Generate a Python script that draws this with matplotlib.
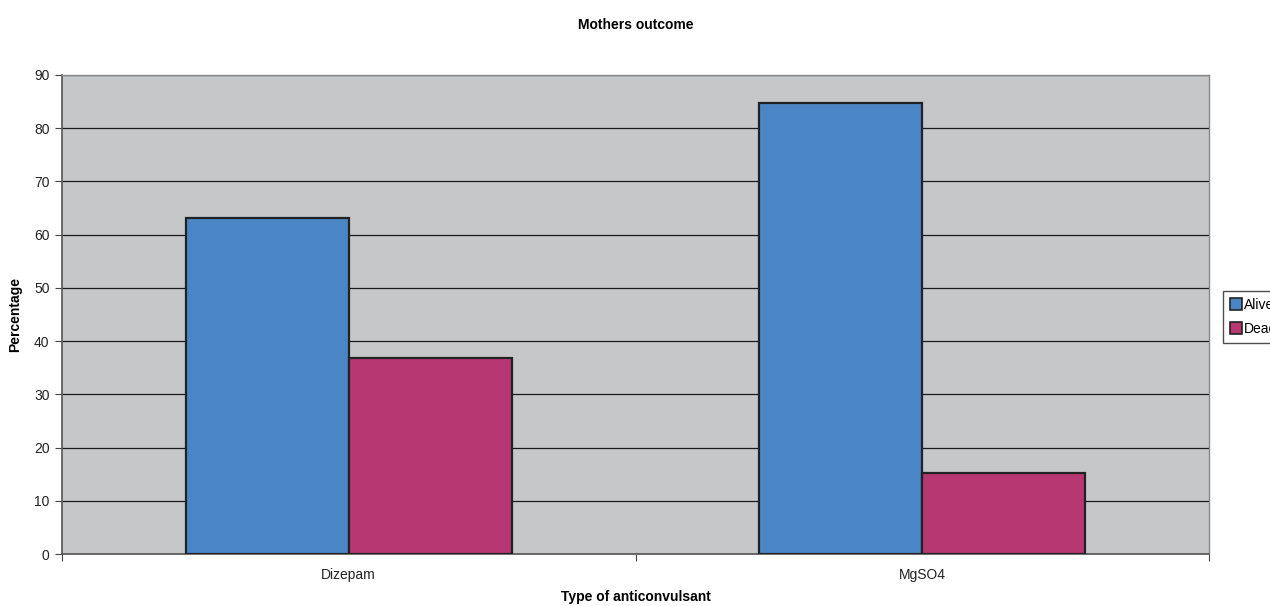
import numpy as np
import matplotlib.pyplot as plt
from matplotlib.patches import Patch

plt.rcParams['font.family'] = ['Liberation Sans', 'DejaVu Sans']

categories = ['Dizepam', 'MgSO4']
alive = [63.2, 84.8]
dead = [36.8, 15.2]
series_names = ['Alive', 'Dead']

BLUE = '#4A86C5'
MAGENTA = '#B73772'
PLOT_BG = '#C6C7C9'

fig = plt.figure(figsize=(12.7, 6.06), dpi=100)
ax = fig.add_axes([62 / 1270, 52 / 606, 1147 / 1270, 479 / 606])
ax.set_facecolor(PLOT_BG)

x = np.arange(len(categories))
w = 0.284
ax.bar(x - w / 2, alive, w, color=BLUE, edgecolor='#222222', linewidth=1.6, zorder=3)
ax.bar(x + w / 2, dead, w, color=MAGENTA, edgecolor='#222222', linewidth=1.6, zorder=3)

ax.set_xlim(-0.5, len(categories) - 0.5)
ax.set_ylim(0, 90)
ax.set_yticks(np.arange(0, 91, 10))
ax.yaxis.grid(True, color='#1a1a1a', linewidth=0.9, zorder=1)
ax.set_axisbelow(True)

# category boundaries get tick marks, labels sit at the centres
ax.set_xticks(np.arange(-0.5, len(categories), 1.0))
ax.set_xticklabels([])
ax.set_xticks(x, minor=True)
ax.set_xticklabels(categories, minor=True)
ax.tick_params(axis='x', which='minor', length=0, pad=10, labelsize=10, colors='#222222')
ax.tick_params(axis='x', which='major', length=5, color='#444444')
ax.tick_params(axis='y', length=5, color='#444444', labelsize=10, labelcolor='#222222', pad=4)

for s in ['left', 'bottom']:
    ax.spines[s].set_color('#555555')
    ax.spines[s].set_linewidth(1.2)
for s in ['top', 'right']:
    ax.spines[s].set_color('#888888')
    ax.spines[s].set_linewidth(1.0)

ax.set_xlabel('Type of anticonvulsant', fontsize=10, fontweight='bold', va='center')
ax.xaxis.set_label_coords(0.5, (554 - 597) / 479)
ax.set_ylabel('Percentage', fontsize=10, fontweight='bold', va='center')
ax.yaxis.set_label_coords((15 - 62) / 1147, 0.5)
fig.text(0.5 * (62 + 1209) / 1270, 1 - 25 / 606, 'Mothers outcome', ha='center', va='center',
         fontsize=10, fontweight='bold')

handles = [Patch(facecolor=BLUE, edgecolor='#222222', linewidth=1.2),
           Patch(facecolor=MAGENTA, edgecolor='#222222', linewidth=1.2)]
leg = fig.legend(handles, series_names, loc='upper left',
                 bbox_to_anchor=(1223 / 1270, 1 - 291 / 606),
                 fontsize=10, frameon=True, fancybox=False, borderpad=0.5,
                 handlelength=0.9, handleheight=0.9, handletextpad=0.1,
                 labelspacing=0.7, borderaxespad=0)
leg.get_frame().set_edgecolor('#222222')
leg.get_frame().set_linewidth(1.0)

fig.savefig('out.png', dpi=100, facecolor='white')
